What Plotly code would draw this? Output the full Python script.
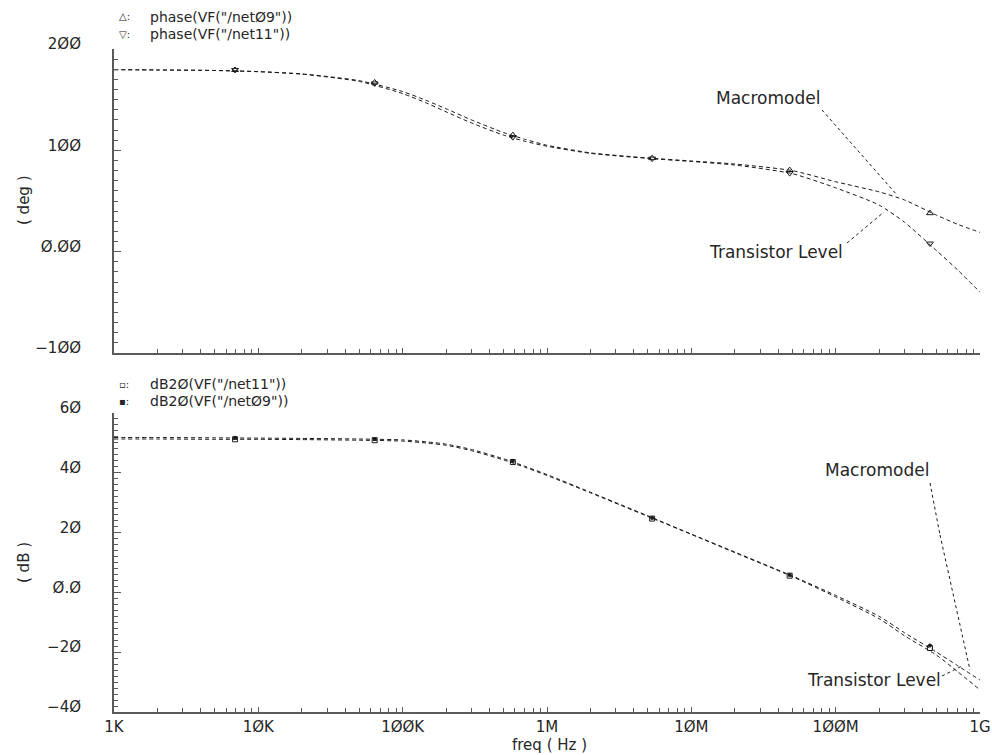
import plotly.graph_objects as go

# ---------------- data ----------------
freq_hz = [1e3, 2e3, 5e3, 1e4, 2e4, 5e4, 1e5, 1.5e5, 2e5, 3e5, 5e5, 7e5,
           1e6, 2e6, 5e6, 1e7, 2e7, 5e7, 1e8, 2e8, 3e8, 5e8, 7e8, 1e9]

phase_net09 = [179.6, 179.3, 178.8, 177.7, 175.4, 168.8, 158.0, 148.5, 141.0, 130.0, 117.5, 111.0,
               105.0, 97.5, 92.5, 89.5, 86.5, 80.0, 69.0, 59.0, 51.0, 36.0, 27.0, 19.0]
phase_net11 = [179.6, 179.3, 178.8, 177.6, 175.2, 168.0, 156.0, 146.0, 138.0, 127.0, 115.0, 109.0,
               104.0, 97.0, 92.0, 89.0, 85.5, 77.0, 63.0, 46.0, 29.0, 1.0, -18.0, -40.0]

db_net09 = [51.8, 51.8, 51.7, 51.6, 51.5, 51.3, 51.0, 50.3, 49.6, 47.8, 44.7, 42.2,
            39.4, 33.5, 25.6, 19.5, 13.5, 5.5, -1.0, -8.0, -13.5, -20.0, -24.5, -29.3]
db_net11 = [51.3, 51.3, 51.2, 51.2, 51.1, 50.9, 50.6, 49.9, 49.2, 47.4, 44.3, 41.9,
            39.1, 33.3, 25.4, 19.4, 13.3, 5.3, -1.5, -8.8, -14.5, -21.0, -26.5, -32.6]

marker_freq = [6.9e3, 6.4e4, 5.8e5, 5.35e6, 4.8e7, 4.5e8]
phase_net09_m = [179.3, 167.0, 115.0, 92.3, 80.5, 38.0]
phase_net11_m = [179.3, 166.0, 113.0, 91.8, 77.5, 8.0]
db_net09_m = [51.7, 51.3, 44.0, 24.9, 5.8, -17.8]
db_net11_m = [51.2, 50.9, 43.6, 24.7, 5.6, -18.6]

x_tickvals = [1e3, 1e4, 1e5, 1e6, 1e7, 1e8, 1e9]
x_ticktext = ["1K", "1ØK", "1ØØK", "1M", "1ØM", "1ØØM", "1G"]
phase_tickvals = [-100, 0, 100, 200]
phase_ticktext = ["\u22121ØØ", "Ø.ØØ", "1ØØ", "2ØØ"]
db_tickvals = [-40, -20, 0, 20, 40, 60]
db_ticktext = ["\u22124Ø", "\u22122Ø", "Ø.Ø", "2Ø", "4Ø", "6Ø"]

# ---------------- layout geometry (page pixels) ----------------
W, H = 992, 755
L, R, T, B = 114, 980, 49, 712      # plot area in page pixels
FONT = "DejaVu Sans"
INK = "#1a1a1a"
TXT = "#262626"
AX = "#5a5a5a"


def px(x):
    return (x - L) / (R - L)


def py(y):
    return (B - y) / (B - T)


top_dom = [py(353), 1.0]
bot_dom = [0.0, py(413)]

fig = go.Figure()

line_style = dict(color=INK, width=1, dash="4px,3px", shape="spline", smoothing=0.6)

fig.add_trace(go.Scatter(x=freq_hz, y=phase_net09, mode="lines", line=line_style,
                         xaxis="x", yaxis="y", name='phase(VF("/netØ9"))'))
fig.add_trace(go.Scatter(x=freq_hz, y=phase_net11, mode="lines", line=line_style,
                         xaxis="x", yaxis="y", name='phase(VF("/net11"))'))
fig.add_trace(go.Scatter(x=marker_freq, y=phase_net09_m, mode="markers",
                         marker=dict(symbol="triangle-up-open", size=6, color=INK, line=dict(width=1)),
                         xaxis="x", yaxis="y"))
fig.add_trace(go.Scatter(x=marker_freq, y=phase_net11_m, mode="markers",
                         marker=dict(symbol="triangle-down-open", size=6, color=INK, line=dict(width=1)),
                         xaxis="x", yaxis="y"))

fig.add_trace(go.Scatter(x=freq_hz, y=db_net11, mode="lines", line=line_style,
                         xaxis="x2", yaxis="y2", name='dB2Ø(VF("/net11"))'))
fig.add_trace(go.Scatter(x=freq_hz, y=db_net09, mode="lines", line=line_style,
                         xaxis="x2", yaxis="y2", name='dB2Ø(VF("/netØ9"))'))
fig.add_trace(go.Scatter(x=marker_freq, y=db_net11_m, mode="markers",
                         marker=dict(symbol="square-open", size=5, color=INK, line=dict(width=1)),
                         xaxis="x2", yaxis="y2"))
fig.add_trace(go.Scatter(x=marker_freq, y=db_net09_m, mode="markers",
                         marker=dict(symbol="circle", size=4, color=INK),
                         xaxis="x2", yaxis="y2"))

tick_font = dict(family=FONT, size=15, color=TXT)

xaxis_common = dict(type="log", range=[3, 9], domain=[0, 1], showgrid=False, zeroline=False,
                    showline=True, linecolor=AX, linewidth=2, automargin=False,
                    tickvals=x_tickvals, ticks="inside", ticklen=5, tickcolor=AX, tickwidth=1,
                    minor=dict(dtick="D1", ticks="inside", ticklen=4, tickcolor=AX, tickwidth=1, showgrid=False),
                    tickfont=tick_font)

yaxis_common = dict(showgrid=False, zeroline=False, automargin=False,
                    showline=True, linecolor=AX, linewidth=2,
                    ticks="inside", ticklen=7, tickcolor=AX, tickwidth=1,
                    tickfont=tick_font, ticklabelstandoff=28,
                    ticklabelshift=-5)

fig.update_layout(
    width=W, height=H,
    margin=dict(l=L, r=W - R, t=T, b=H - B, autoexpand=False),
    paper_bgcolor="white", plot_bgcolor="white",
    showlegend=False,
    xaxis=dict(**xaxis_common, anchor="y", showticklabels=False),
    xaxis2=dict(**xaxis_common, anchor="y2", ticktext=x_ticktext, showticklabels=True,
                ticklabelstandoff=0),
    yaxis=dict(**yaxis_common, domain=top_dom, range=[-100, 200], anchor="x",
               tickvals=phase_tickvals, ticktext=phase_ticktext,
               minor=dict(dtick=10, ticks="inside", ticklen=4, tickcolor=AX, tickwidth=1, showgrid=False)),
    yaxis2=dict(**yaxis_common, domain=bot_dom, range=[-40, 60], anchor="x2",
                tickvals=db_tickvals, ticktext=db_ticktext,
                minor=dict(dtick=2, ticks="inside", ticklen=4, tickcolor=AX, tickwidth=1, showgrid=False)),
)


def text(x, y, s, xanchor="left", angle=0, size=17):
    fig.add_annotation(x=px(x), y=py(y), xref="paper", yref="paper", text=s, showarrow=False,
                       xanchor=xanchor, yanchor="middle",
                       font=dict(family=FONT, size=size, color=TXT), textangle=angle)


# legends (marker glyph + colon, then the expression)
text(117, 17, "\u25B3:", size=10)
text(117, 34, "\u25BD:", size=10)
text(148, 17, 'phase(VF("/netØ9"))', size=14)
text(148, 34, 'phase(VF("/net11"))', size=14)
text(117, 384, "\u25AB:", size=10)
text(117, 401, "\u25AA:", size=10)
text(148, 384, 'dB2Ø(VF("/net11"))', size=14)
text(148, 401, 'dB2Ø(VF("/netØ9"))', size=14)

# axis titles
text(24, 200, "( deg )", xanchor="center", angle=-90, size=15)
text(24, 563, "( dB )", xanchor="center", angle=-90, size=15)
text(549, 745, "freq ( Hz )", xanchor="center", size=15)

# callouts
text(768, 98, "Macromodel", xanchor="center")
text(776, 252, "Transistor Level", xanchor="center")
text(877, 470, "Macromodel", xanchor="center")
text(874, 680, "Transistor Level", xanchor="center")

callouts = [
    [(822, 110), (897, 195)],
    [(847, 243), (884, 212)],
    [(930, 483), (940, 535), (970, 670)],
    [(942, 676), (962, 666)],
]
for pts in callouts:
    for (x0, y0), (x1, y1) in zip(pts[:-1], pts[1:]):
        fig.add_shape(type="line", xref="paper", yref="paper",
                      x0=px(x0), y0=py(y0), x1=px(x1), y1=py(y1),
                      line=dict(color=INK, width=1, dash="3px,3px"))

# the page body's default 8px margin would shift the chart and add scrollbars
fig.write_html("out.html", config={"displayModeBar": False},
               post_script="document.body.style.margin='0';document.body.style.overflow='hidden';")
